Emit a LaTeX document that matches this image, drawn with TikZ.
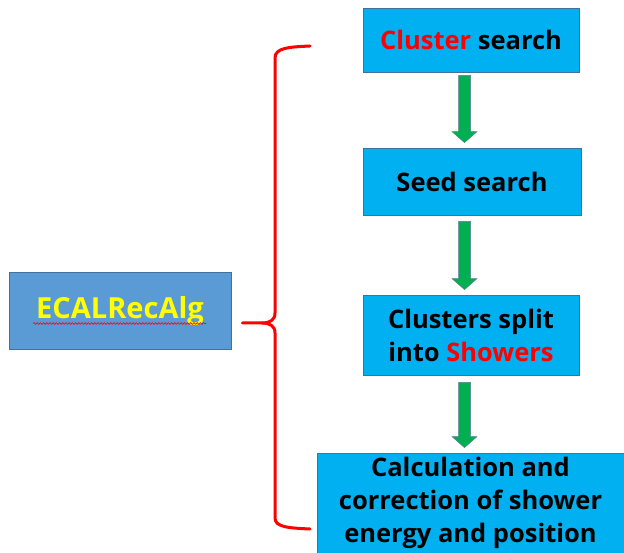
\documentclass[tikz,border=0pt]{standalone}
\usepackage{fontspec}
\setmainfont{Open Sans}
\usetikzlibrary{calc,decorations.pathmorphing}
\definecolor{stepblue}{HTML}{00B0F0}
\definecolor{algblue}{HTML}{5B9BD5}
\definecolor{edgeblue}{HTML}{41719C}
\definecolor{arrowgreen}{HTML}{00B050}
\definecolor{arrowedge}{HTML}{5A7A9A}
\definecolor{hilite}{HTML}{FF0000}
\definecolor{algtext}{HTML}{FFFF00}
\tikzset{
  stepbox/.style={draw=edgeblue, line width=0.8pt, fill=stepblue, align=center,
    inner sep=0pt, font=\fontsize{25.5}{33}\selectfont\bfseries},
  algbox/.style={draw=edgeblue, line width=0.8pt, fill=algblue, align=center,
    inner sep=0pt, text=algtext, font=\fontsize{29}{34}\selectfont\bfseries},
  flowarrow/.style={fill=arrowgreen, draw=arrowedge, line width=0.5pt, line join=miter},
  bracket/.style={draw=hilite, line width=3pt, line cap=round, line join=round}
}
% block arrow: shaft 12 wide, head 25 wide and 11 long, from #1 (top) to #2 (tip)
\newcommand{\flowstep}[2]{%
  \path[flowarrow] let \p1=(#1), \p2=(#2) in
    (\x1-6pt,\y1) -- (\x1+6pt,\y1) -- (\x1+6pt,\y2+11pt) -- (\x1+12.5pt,\y2+11pt)
    -- (\x1,\y2) -- (\x1-12.5pt,\y2+11pt) -- (\x1-6pt,\y2+11pt) -- cycle;}
\begin{document}
\begin{tikzpicture}[x=1pt,y=-1pt]
\useasboundingbox (0,0) rectangle (624,553);

% main algorithm box
\node[algbox, minimum width=222pt, minimum height=77pt] (ecal) at (120,310.5) {ECALRecAlg};
\draw[hilite, line width=0.6pt, decorate, decoration={snake, amplitude=0.9pt, segment length=3.2pt}]
  ($(ecal.center)+(-87,13)$) -- ($(ecal.center)+(86,13)$);

% processing steps
\node[stepbox, minimum width=216pt, minimum height=64pt] (s1) at (471,40)
  {\textcolor{hilite}{Cluster} search};
\node[stepbox, minimum width=218pt, minimum height=67pt] (s2) at (472,181.5)
  {Seed search};
\node[stepbox, minimum width=216pt, minimum height=80pt] (s3) at (471,335)
  {Clusters split\\into \textcolor{hilite}{Showers}};
\node[stepbox, minimum width=307pt, minimum height=100pt] (s4) at (470.5,503)
  {Calculation and\\correction of shower\\energy and position};

% arrows between the steps
\coordinate (a1t) at ($(s1.south)+(-6.5,3)$);
\coordinate (a1b) at ($(s2.north)+(-6.5,-5)$);
\coordinate (a2t) at ($(s2.south)+(-7.5,6)$);
\coordinate (a2b) at ($(s3.north)+(-6.5,-5)$);
\coordinate (a3t) at ($(s3.south)+(-6.5,7)$);
\coordinate (a3b) at ($(s4.north)+(-6,-5)$);
\flowstep{a1t}{a1b}
\flowstep{a2t}{a2b}
\flowstep{a3t}{a3b}

% curly bracket grouping the steps
\coordinate (bt) at (310,46);
\coordinate (bb) at (310,529);
\coordinate (bm) at ($(ecal.east)+(11,12.5)$);
\path[bracket] (bt) .. controls (288,47) and (275,48) .. (275,58) -- (275,313)
  .. controls (275,320) and (270,323) .. (262,323) -- (bm);
\path[bracket] (bb) .. controls (288,528) and (275,527) .. (275,518) -- (275,333)
  .. controls (275,326) and (270,323) .. (262,323);
\end{tikzpicture}
\end{document}
